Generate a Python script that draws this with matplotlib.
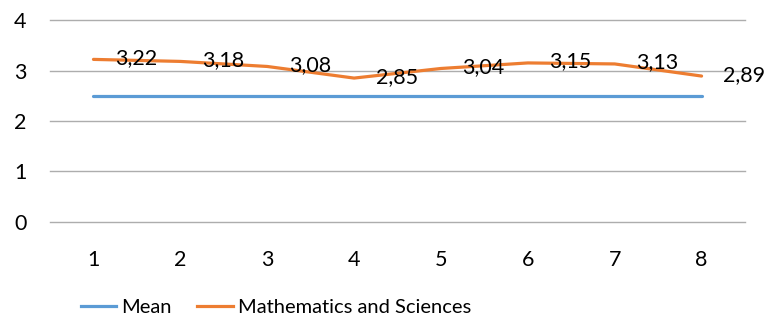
import matplotlib
matplotlib.use("Agg")
import matplotlib.pyplot as plt
from matplotlib.lines import Line2D

plt.rcParams['font.family'] = ['Lato', 'DejaVu Sans']

categories = [1, 2, 3, 4, 5, 6, 7, 8]
mean_values = [2.5, 2.5, 2.5, 2.5, 2.5, 2.5, 2.5, 2.5]
math_sci = [3.22, 3.18, 3.08, 2.85, 3.04, 3.15, 3.13, 2.89]

BLUE = '#5B9BD5'
ORANGE = '#ED7D31'
FS = 15.5

fig = plt.figure(figsize=(7.66, 3.28), dpi=100)
ax = fig.add_axes([0.0653, 0.3232, 0.9073, 0.6158])

ax.plot(categories, mean_values, color=BLUE, lw=2.3, solid_capstyle='round', zorder=3)
ax.plot(categories, math_sci, color=ORANGE, lw=2.3, solid_capstyle='round',
        solid_joinstyle='round', zorder=4)

# value labels to the right of each point, decimal comma
for x, v in zip(categories, math_sci):
    ax.annotate(f"{v:.2f}".replace('.', ','), (x, v), xytext=(15.5, 1),
                textcoords='offset points', ha='left', va='center',
                fontsize=FS, color='black', annotation_clip=False, zorder=5)

ax.set_xlim(0.5, 8.5)
ax.set_ylim(0, 4)
ax.set_xticks(categories)
ax.set_yticks([0, 1, 2, 3, 4])
ax.grid(axis='y', color='#ADADAD', lw=1)
for gl in ax.get_ygridlines():
    gl.set_clip_on(False)
ax.set_axisbelow(True)
for s in ax.spines.values():
    s.set_visible(False)
ax.tick_params(axis='both', length=0, labelsize=FS)
ax.tick_params(axis='x', pad=20)
ax.tick_params(axis='y', pad=17)

handles = [Line2D([], [], color=BLUE, lw=2.3), Line2D([], [], color=ORANGE, lw=2.3)]
fig.legend(handles, ['Mean', 'Mathematics and Sciences'], loc='center',
           bbox_to_anchor=(0.36, 0.064), ncol=2, frameon=False, fontsize=14.5,
           handlelength=1.75, handletextpad=0.25, columnspacing=1.3)

fig.savefig('out.png', dpi=100)
